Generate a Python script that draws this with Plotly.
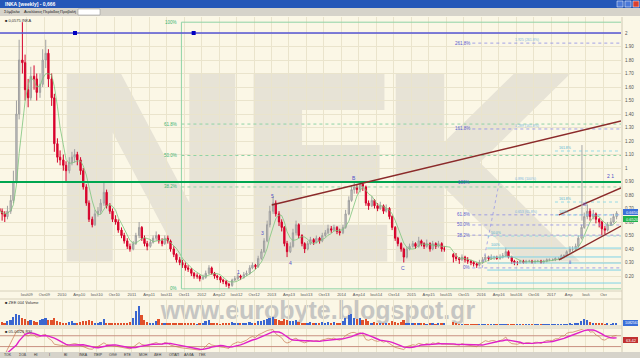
import plotly.graph_objects as go
import pandas as pd
import numpy as np

W, H = 640, 358
def px(x): return x / W
def py(y): return 1 - y / H

# ---------------- data (semi-monthly candles) ----------------
dates = []
for yr in range(2009, 2018):
    for m in range(1, 13):
        for d in (1, 15):
            dt = pd.Timestamp(yr, m, d)
            if pd.Timestamp(2009, 2, 1) <= dt <= pd.Timestamp(2017, 12, 1):
                dates.append(dt)

opens = [0.70,0.68,0.66,0.64,0.68,0.76,0.90,1.40,1.80,1.78,1.58,1.52,1.68,1.66,1.56,1.62,1.80,1.85,1.66,1.52,1.18,1.08,
 1.06,1.02,0.98,1.04,1.08,1.10,1.06,0.98,0.86,0.74,0.62,0.58,0.66,0.68,0.74,0.82,0.72,0.68,0.62,0.60,0.54,0.50,0.46,0.42,
 0.40,0.44,0.50,0.56,0.48,0.44,0.42,0.45,0.48,0.50,0.46,0.44,0.48,0.46,0.40,0.36,0.32,0.30,0.28,0.26,0.25,0.22,0.20,0.20,
 0.18,0.19,0.22,0.26,0.22,0.20,0.19,0.17,0.16,0.14,0.13,0.17,0.18,0.20,0.19,0.21,0.22,0.26,0.28,0.27,0.33,0.38,0.46,0.58,
 0.68,0.74,0.66,0.60,0.56,0.44,0.38,0.42,0.52,0.58,0.50,0.44,0.40,0.44,0.47,0.45,0.48,0.46,0.50,0.52,0.55,0.54,0.56,0.53,
 0.52,0.56,0.66,0.76,0.84,0.86,0.84,0.88,0.86,0.74,0.72,0.76,0.72,0.70,0.72,0.68,0.70,0.64,0.56,0.48,0.44,0.40,0.34,0.40,
 0.42,0.44,0.42,0.46,0.44,0.42,0.44,0.40,0.44,0.42,0.44,0.40,None,None,0.36,0.34,0.33,0.32,0.34,0.32,0.31,0.30,0.29,0.28,
 0.30,0.32,0.34,0.33,0.34,0.34,0.33,0.34,0.35,0.38,0.34,0.31,0.30,0.30,0.31,0.30,0.31,0.31,0.30,0.31,0.31,0.30,0.31,0.32,
 0.32,0.32,0.33,0.33,0.35,0.35,0.38,0.40,0.40,0.42,0.48,0.56,0.64,0.68,0.64,0.66,0.62,0.60,0.55,0.54,0.58,0.60,0.64]
highs = [0.72,0.70,0.68,0.72,0.80,0.98,1.50,1.95,2.08,1.84,1.66,1.75,1.76,1.70,1.70,1.88,1.95,1.88,1.70,1.55,1.22,1.13,
 1.10,1.05,1.08,1.12,1.14,1.12,1.08,1.00,0.88,0.76,0.64,0.69,0.71,0.77,0.90,0.84,0.74,0.70,0.65,0.62,0.56,0.52,0.48,0.44,
 0.46,0.52,0.60,0.57,0.50,0.46,0.47,0.50,0.53,0.51,0.48,0.50,0.50,0.47,0.42,0.37,0.34,0.32,0.30,0.28,0.26,0.23,0.22,0.21,
 0.21,0.24,0.28,0.27,0.23,0.21,0.20,0.18,0.17,0.15,0.18,0.20,0.22,0.21,0.23,0.24,0.28,0.30,0.29,0.35,0.40,0.48,0.61,0.72,
 0.79,0.76,0.68,0.62,0.57,0.46,0.45,0.55,0.61,0.59,0.51,0.45,0.46,0.49,0.48,0.50,0.49,0.52,0.54,0.58,0.57,0.58,0.57,0.55,
 0.58,0.69,0.79,0.87,0.89,0.88,0.90,0.89,0.87,0.76,0.79,0.77,0.74,0.75,0.73,0.73,0.71,0.65,0.57,0.49,0.45,0.41,0.42,0.44,
 0.46,0.45,0.49,0.47,0.45,0.47,0.45,0.46,0.45,0.46,0.45,0.42,None,None,0.37,0.37,0.34,0.36,0.35,0.34,0.32,0.31,0.30,0.32,
 0.34,0.36,0.35,0.36,0.35,0.35,0.36,0.37,0.41,0.39,0.35,0.32,0.31,0.32,0.32,0.32,0.32,0.32,0.32,0.32,0.32,0.32,0.33,0.33,
 0.33,0.34,0.34,0.36,0.36,0.39,0.42,0.42,0.44,0.50,0.58,0.67,0.73,0.70,0.69,0.67,0.63,0.61,0.57,0.60,0.63,0.66,0.68]
lows = [0.62,0.61,0.60,0.62,0.66,0.74,0.88,1.36,1.70,1.50,1.45,1.50,1.58,1.50,1.52,1.60,1.74,1.60,1.46,1.12,1.04,1.02,
 0.98,0.89,0.96,1.02,1.04,1.02,0.95,0.84,0.72,0.60,0.56,0.57,0.64,0.66,0.72,0.70,0.66,0.60,0.58,0.52,0.48,0.44,0.40,0.38,
 0.39,0.43,0.48,0.46,0.42,0.39,0.41,0.44,0.46,0.44,0.42,0.43,0.44,0.38,0.34,0.30,0.28,0.26,0.24,0.23,0.20,0.18,0.18,0.16,
 0.17,0.18,0.21,0.21,0.18,0.17,0.15,0.14,0.12,0.105,0.12,0.16,0.17,0.17,0.18,0.20,0.21,0.25,0.25,0.26,0.32,0.37,0.45,0.56,
 0.66,0.64,0.57,0.53,0.42,0.34,0.37,0.41,0.50,0.48,0.42,0.37,0.39,0.43,0.43,0.44,0.44,0.45,0.49,0.51,0.52,0.53,0.51,0.50,
 0.51,0.55,0.65,0.75,0.81,0.81,0.82,0.83,0.72,0.69,0.71,0.70,0.68,0.69,0.66,0.67,0.62,0.54,0.46,0.42,0.38,0.30,0.33,0.39,
 0.41,0.40,0.41,0.42,0.40,0.41,0.38,0.39,0.40,0.41,0.38,0.38,None,None,0.30,0.31,0.29,0.31,0.30,0.29,0.28,0.27,0.26,0.27,
 0.29,0.31,0.31,0.32,0.32,0.32,0.32,0.33,0.34,0.33,0.29,0.28,0.28,0.29,0.29,0.29,0.30,0.29,0.29,0.30,0.29,0.29,0.30,0.31,
 0.31,0.31,0.32,0.32,0.33,0.34,0.37,0.38,0.39,0.41,0.47,0.55,0.62,0.61,0.62,0.59,0.56,0.50,0.51,0.53,0.57,0.59,0.62]
closes = [0.68,0.66,0.64,0.68,0.76,0.90,1.40,1.80,1.78,1.58,1.52,1.68,1.66,1.56,1.62,1.80,1.85,1.66,1.52,1.18,1.08,1.06,
 1.02,0.98,1.04,1.08,1.10,1.06,0.98,0.86,0.74,0.62,0.58,0.66,0.68,0.74,0.82,0.72,0.68,0.62,0.60,0.54,0.50,0.46,0.42,0.40,
 0.44,0.50,0.56,0.48,0.44,0.42,0.45,0.48,0.50,0.46,0.44,0.48,0.46,0.40,0.36,0.32,0.30,0.28,0.26,0.25,0.22,0.20,0.20,0.18,
 0.19,0.22,0.26,0.22,0.20,0.19,0.17,0.16,0.14,0.13,0.17,0.18,0.20,0.19,0.21,0.22,0.26,0.28,0.27,0.33,0.38,0.46,0.58,0.68,
 0.74,0.66,0.60,0.56,0.44,0.38,0.42,0.52,0.58,0.50,0.44,0.40,0.44,0.47,0.45,0.48,0.46,0.50,0.52,0.55,0.54,0.56,0.53,0.52,
 0.56,0.66,0.76,0.84,0.86,0.84,0.88,0.86,0.74,0.72,0.76,0.72,0.70,0.72,0.68,0.70,0.64,0.56,0.48,0.44,0.40,0.34,0.40,0.42,
 0.44,0.42,0.46,0.44,0.42,0.44,0.40,0.44,0.42,0.44,0.40,0.40,None,None,0.34,0.33,0.32,0.34,0.32,0.31,0.30,0.29,0.28,0.30,
 0.32,0.34,0.33,0.34,0.34,0.33,0.34,0.35,0.38,0.34,0.31,0.30,0.30,0.31,0.30,0.31,0.31,0.30,0.31,0.31,0.30,0.31,0.32,0.32,
 0.32,0.33,0.33,0.35,0.35,0.38,0.40,0.40,0.42,0.48,0.56,0.64,0.68,0.64,0.66,0.62,0.60,0.55,0.54,0.58,0.60,0.64,0.665]
volumes = [10,12,8,15,20,35,45,40,30,25,18,22,15,12,20,25,28,22,20,30,15,12,
 8,10,12,15,10,8,12,15,18,20,15,10,8,12,25,10,8,6,8,10,6,8,10,12,
 30,60,80,40,20,12,10,8,15,25,10,8,10,8,6,8,5,6,5,8,6,5,4,6,
 10,15,20,8,6,5,4,6,8,10,12,8,6,5,8,10,12,8,10,15,18,20,25,30,
 35,25,20,18,25,22,15,18,20,12,10,8,10,12,8,10,8,12,10,14,10,12,8,10,
 15,30,40,45,30,25,30,20,25,15,10,12,8,10,6,8,10,15,12,10,14,20,10,8,
 8,6,5,6,5,4,5,6,4,5,8,10,None,None,12,5,3,3,2,3,2,2,3,2,
 3,2,2,3,2,2,3,2,4,3,2,2,2,2,2,2,2,3,2,2,2,2,3,2,
 3,2,3,3,4,3,5,4,6,8,15,25,20,12,8,6,5,6,4,5,4,6,5]

# Fibonacci anchors and drawn levels (price values)
fib09_high, fib09_low = 2.08, 0.105
fib09_ratios = [1.0, 0.618, 0.5, 0.382, 0.0]
fib16_low, fib16_high = 0.26, 0.896
fib16_ratios = [0.0, 0.382, 0.5, 0.618, 1.0, 1.618, 2.618]
cyan_levels = [1.126, 0.748, 0.652, 0.496, 0.407, 0.341, 0.296, 0.244, 0.148]
cyan_labels = ["161.8%", "161.8%", "100%", "50.0%", "100%", "", "", "", ""]
blue_level = 2.0
green_level = 0.896
trend_pts = (["2013-01-01", "2017-12-31"], [0.726, 1.348])
chan_up = (["2017-02-10", "2017-12-31"], [0.652, 0.852])
chan_dn = (["2017-02-10", "2017-12-31"], [0.319, 0.570])

xc = [d + pd.Timedelta(days=7) for d in dates]
xr = ["2009-02-11", "2017-12-31"]

s = pd.Series(closes, dtype=float)
ma = s.rolling(5, min_periods=1).mean()
delta = s.diff()
up = delta.clip(lower=0)
dn = -delta.clip(upper=0)
rs = up.ewm(alpha=1/9, adjust=False).mean() / dn.ewm(alpha=1/9, adjust=False).mean()
rsi = 100 - 100 / (1 + rs)
rsi_sm = rsi.rolling(6, min_periods=1).mean()

CREAM = "#FBF7E6"
GRID = "#EAE4CC"
FONT = "Liberation Sans"
NOHOVER = dict(showlegend=False, hoverinfo="skip")

fig = go.Figure()

# watermark layer (subplot xy, drawn first = below everything), pixel coordinates
fig.add_trace(go.Scatter(
    x=[151, 318, 472], y=[197, 197, 197], mode="text", text=["N", "E", "K"],
    textposition="middle center",
    textfont=dict(size=258, color="#E7E3D6", family="DejaVu Sans", weight="bold"),
    xaxis="x", yaxis="y", cliponaxis=False, **NOHOVER))
fig.add_trace(go.Scatter(
    x=[318], y=[313], mode="text", text=["www.eurobyte.blogspot.gr"], textposition="middle center",
    textfont=dict(size=25, color="#C6C6C3", family="Liberation Sans", weight="bold"),
    xaxis="x", yaxis="y", cliponaxis=False, **NOHOVER))

# price panel (x2, y2)
fig.add_trace(go.Candlestick(
    x=xc, open=opens, high=highs, low=lows, close=closes,
    increasing=dict(line=dict(color="#A0A0A0", width=1), fillcolor="#C8C8C8"),
    decreasing=dict(line=dict(color="#D4002A", width=1), fillcolor="#E8002E"),
    whiskerwidth=0, xaxis="x2", yaxis="y2", **NOHOVER))
fig.add_trace(go.Scatter(x=xc, y=ma, mode="lines", line=dict(color="#7CC47C", width=0.8),
                         xaxis="x2", yaxis="y2", **NOHOVER))

def pct(r):
    return ("%g%%" % (r * 100)) if r in (0, 1) else "%.1f%%" % (r * 100)

# Fibonacci 2009
fx0 = "2011-09-17"
for r in fib09_ratios:
    lv = fib09_low + r * (fib09_high - fib09_low)
    fig.add_trace(go.Scatter(x=[fx0, xr[1]], y=[lv, lv], mode="lines",
                             line=dict(color="#8FD3A6", width=1, dash="solid" if r in (0.0, 1.0) else "dot"),
                             xaxis="x2", yaxis="y2", **NOHOVER))
    fig.add_annotation(x=fx0, y=lv, xref="x2", yref="y2", text=pct(r), showarrow=False,
                       xanchor="right", xshift=-2, font=dict(size=4.5, color="#3CB371", family=FONT))
fig.add_trace(go.Scatter(x=[fx0, fx0], y=[fib09_high, fib09_low], mode="lines",
                         line=dict(color="#8FD3A6", width=1), xaxis="x2", yaxis="y2", **NOHOVER))

# Fibonacci 2016
f16x0 = "2015-11-15"
for r in fib16_ratios:
    lv = fib16_low + r * (fib16_high - fib16_low)
    fig.add_trace(go.Scatter(x=[f16x0, xr[1]], y=[lv, lv], mode="lines",
                             line=dict(color="#8C8CE6", width=0.8, dash="dot"),
                             xaxis="x2", yaxis="y2", **NOHOVER))
    fig.add_annotation(x=f16x0, y=lv, xref="x2", yref="y2", text=pct(r), showarrow=False,
                       xanchor="right", font=dict(size=4.5, color="#5A5AD0", family=FONT))
    if r >= 0.618:
        fig.add_annotation(x="2016-06-15", y=lv, xref="x2", yref="y2", text="%.3f (%s)" % (lv, pct(r)),
                           showarrow=False, xanchor="left", yanchor="bottom", yshift=-1,
                           font=dict(size=3.5, color="#7FB8E0", family=FONT))
fig.add_trace(go.Scatter(x=["2016-01-06", "2016-04-04"], y=[fib16_low, fib16_high], mode="lines",
                         line=dict(color="#9A9AE6", width=0.8, dash="dot"), xaxis="x2", yaxis="y2", **NOHOVER))

# cyan levels (2016-2017)
for i, (lv, lb) in enumerate(zip(cyan_levels, cyan_labels)):
    x0 = "2017-01-20" if i < 3 else "2016-02-01"
    fig.add_trace(go.Scatter(x=[x0, xr[1]], y=[lv, lv], mode="lines",
                             line=dict(color="#7FD3E6", width=1 if i >= 4 else 0.8, dash="dot" if i < 4 else "solid"),
                             xaxis="x2", yaxis="y2", **NOHOVER))
    if lb:
        fig.add_annotation(x=x0, y=lv, xref="x2", yref="y2", text=lb, showarrow=False, xanchor="left",
                           yanchor="bottom", yshift=-1, xshift=2, font=dict(size=3.5, color="#4FB0D0", family=FONT))

# horizontal levels
fig.add_trace(go.Scatter(x=xr, y=[blue_level, blue_level], mode="lines",
                         line=dict(color="#5555D5", width=1.6), xaxis="x2", yaxis="y2", **NOHOVER))
fig.add_trace(go.Scatter(x=["2010-03-10", "2011-11-20"], y=[blue_level, blue_level], mode="markers",
                         marker=dict(symbol="square", size=4, color="#0000C0"), xaxis="x2", yaxis="y2", **NOHOVER))
fig.add_trace(go.Scatter(x=xr, y=[green_level, green_level], mode="lines",
                         line=dict(color="#00A650", width=2), xaxis="x2", yaxis="y2", **NOHOVER))

# trend lines
for pts in (trend_pts, chan_up, chan_dn):
    fig.add_trace(go.Scatter(x=pts[0], y=pts[1], mode="lines", line=dict(color="#8B2A2A", width=1.4),
                             xaxis="x2", yaxis="y2", **NOHOVER))
fig.add_trace(go.Scatter(x=["2017-06-10", "2017-06-10"], y=[0.61, 1.17], mode="lines",
                         line=dict(color="#A8A8A8", width=1), xaxis="x2", yaxis="y2", **NOHOVER))

# volume (x3, y3)
vcol = []
for o, c in zip(opens, closes):
    if o is None or c is None:
        vcol.append("#3366CC")
    else:
        vcol.append("#3A66D0" if c >= o else "#E0502A")
fig.add_trace(go.Bar(x=xc, y=volumes, marker=dict(color=vcol, line=dict(width=0)),
                     width=9 * 86400000, xaxis="x3", yaxis="y3", **NOHOVER))

# RSI (x4, y4)
for lvl in (70, 30):
    fig.add_trace(go.Scatter(x=xr, y=[lvl, lvl], mode="lines", line=dict(color="#C89080", width=1),
                             xaxis="x4", yaxis="y4", **NOHOVER))
fig.add_trace(go.Scatter(x=xc, y=rsi, mode="lines", line=dict(color="#C87850", width=0.7),
                         xaxis="x4", yaxis="y4", **NOHOVER))
fig.add_trace(go.Scatter(x=xc, y=rsi_sm, mode="lines", line=dict(color="#E020C8", width=1.4),
                         xaxis="x4", yaxis="y4", **NOHOVER))

# ticks
tickvals, ticktext = [], []
greek = {4: "Απρ", 7: "Ιουλ", 10: "Οκτ"}
for yr in range(2009, 2018):
    for m in (1, 4, 7, 10):
        d = pd.Timestamp(yr, m, 1)
        if d < pd.Timestamp(2009, 6, 1):
            continue
        tickvals.append(d)
        if m == 1:
            ticktext.append(str(yr))
        else:
            ticktext.append(greek[m] + ("" if yr == 2017 else "%02d" % (yr % 100)))

pvals = [round(0.2 + 0.1 * i, 1) for i in range(19)]
ptext = [("%g" % v) if v in (1.0, 2.0) else "%.2f" % v for v in pvals]

xd = [0, px(621)]
fig.update_layout(
    width=W, height=H, margin=dict(l=0, r=0, t=0, b=0),
    paper_bgcolor=CREAM, plot_bgcolor="rgba(0,0,0,0)",
    font=dict(family=FONT, size=5, color="#555"),
    xaxis=dict(domain=[0, 1], range=[0, W], visible=False, fixedrange=True),
    yaxis=dict(domain=[0, 1], range=[H, 0], visible=False, fixedrange=True),
    xaxis2=dict(domain=xd, range=xr, type="date", tickvals=tickvals, ticktext=ticktext,
                tickfont=dict(size=4, color="#555"), showgrid=True, gridcolor=GRID, gridwidth=1,
                rangeslider=dict(visible=False), zeroline=False, showline=False, ticks="",
                anchor="y2", ticklabelstandoff=1),
    yaxis2=dict(domain=[py(290), py(17)], range=[0.0963, 2.1185], side="right", tickvals=pvals,
                ticktext=ptext, tickfont=dict(size=4.5, color="#555"), showgrid=True, gridcolor=GRID,
                zeroline=False, anchor="x2", ticks="", ticklabelstandoff=3),
    xaxis3=dict(domain=xd, matches="x2", type="date", anchor="y3", showticklabels=False,
                tickvals=tickvals, showgrid=True, gridcolor=GRID, zeroline=False),
    yaxis3=dict(domain=[py(325), py(300)], range=[0, 105], showticklabels=False, showgrid=False,
                zeroline=False, anchor="x3", side="right"),
    xaxis4=dict(domain=xd, matches="x2", type="date", anchor="y4", showticklabels=False,
                tickvals=tickvals, showgrid=True, gridcolor=GRID, zeroline=False),
    yaxis4=dict(domain=[py(352), py(329)], range=[10, 95], showticklabels=False, showgrid=False,
                zeroline=False, anchor="x4", side="right"),
    bargap=0,
)

shapes = []
shapes.append(dict(type="rect", xref="paper", yref="paper", x0=0, x1=1, y0=py(8), y1=1,
                   fillcolor="#2457B8", line=dict(width=0), layer="above"))
shapes.append(dict(type="rect", xref="paper", yref="paper", x0=0, x1=1, y0=py(16), y1=py(8),
                   fillcolor="#D6D3CA", line=dict(width=0), layer="above"))
shapes.append(dict(type="rect", xref="paper", yref="paper", x0=px(78), x1=px(100), y0=py(15), y1=py(9),
                   fillcolor="white", line=dict(color="#888", width=0.5), layer="above"))
for i, c in enumerate(["#4A78D8", "#4A78D8", "#D84030"]):
    shapes.append(dict(type="rect", xref="paper", yref="paper", x0=px(617 + 8 * i), x1=px(623 + 8 * i),
                       y0=py(7), y1=py(1), fillcolor=c, line=dict(color="white", width=0.5), layer="above"))
for yy in (291, 299, 326, 328):
    shapes.append(dict(type="line", xref="paper", yref="paper", x0=0, x1=px(622), y0=py(yy), y1=py(yy),
                       line=dict(color="#D8D2BC", width=1)))
shapes.append(dict(type="line", xref="paper", yref="paper", x0=px(622), x1=px(622), y0=py(352), y1=py(17),
                   line=dict(color="#D0CAB4", width=1)))
shapes.append(dict(type="rect", xref="paper", yref="paper", x0=0, x1=1, y0=0, y1=py(352),
                   fillcolor="#D6D3CA", line=dict(width=0), layer="above"))
for (y0, y1, c) in [(209, 215, "#3A6FD8"), (216, 222, "#22B14C"), (320, 326, "#3A6FD8"), (337, 343, "#C03030")]:
    shapes.append(dict(type="rect", xref="paper", yref="paper", x0=px(623), x1=px(638), y0=py(y1), y1=py(y0),
                       fillcolor=c, line=dict(width=0), layer="above"))
fig.update_layout(shapes=shapes)

ann = []
def t(x, y, s, size=5, color="#333", anchor="left", bold=False):
    ann.append(dict(x=px(x), y=py(y), xref="paper", yref="paper", text=("<b>%s</b>" % s) if bold else s,
                    showarrow=False, xanchor=anchor, yanchor="middle", font=dict(size=size, color=color, family=FONT)))
t(3, 4, "ΙΝΚΑ [weekly] - 0,666", 5, "white", bold=True)
t(2, 12, "Σύμβολα", 4, "#222"); t(22, 12, "Αναλύσεις", 4, "#222"); t(41, 12, "Περίοδος", 4, "#222"); t(58, 12, "Προβολή", 4, "#222")
t(3, 21, "■ 0,0575 ΙΝΚΑ", 4, "#333")
t(3, 302, "■ ΖΕΕ 004 Volume", 4, "#333")
t(3, 331, "■ 05-04/26 RSI", 4, "#333")
for i, s in enumerate(["ΤΟΚ", "ΣΟΔ", "ΗΙ", "Ι", "ΒΙ", "ΙΝΚΑ", "ΠΕΙΡ", "ΟΛΘ", "ΕΤΕ", "ΜΟΗ", "ΔΕΗ", "ΟΠΑΠ", "ΑΛΦΑ", "ΓΕΚ"]):
    t(2 + 15 * i, 355, s, 3.5, "#333")
t(624, 212, "0.6650", 4, "white"); t(624, 219, "0.6520", 4, "white")
t(623, 323, "1082563", 3.5, "white"); t(624, 340, "63.42", 4, "white")
for (x, y, s) in [(272, 196, "5"), (262, 233, "3"), (290, 263, "4"), (238, 272, "1"), (354, 178, "B"),
                  (403, 268, "C"), (610, 176, "2 1"), (584, 204, "iii"), (570, 262, "ii")]:
    t(x, y, s, 5, "#5050C8", anchor="center")
fig.update_layout(annotations=list(fig.layout.annotations) + ann)

fig.write_html("out.html")
